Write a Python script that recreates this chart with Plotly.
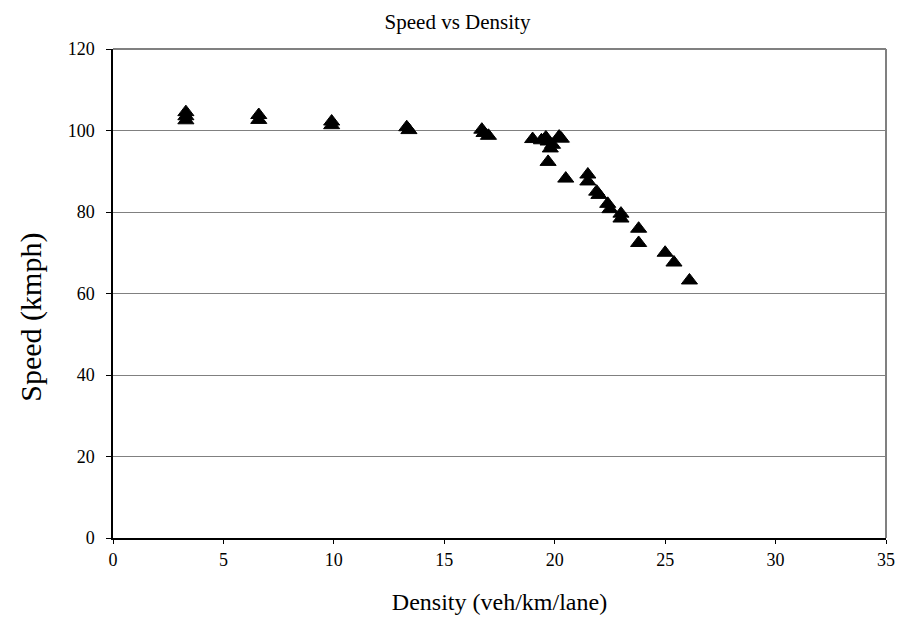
import plotly.graph_objects as go

density = [3.3, 3.3, 3.3, 6.6, 6.6, 9.9, 9.9, 13.3, 13.4, 16.7, 16.8, 17.0,
           19.0, 19.4, 19.6, 19.7, 19.8, 19.9, 19.7, 20.2, 20.3, 20.5,
           21.5, 21.5, 21.9, 22.0, 22.4, 22.5, 23.0, 23.0, 23.8, 23.8,
           25.0, 25.4, 26.1]
speed = [104.5, 103.5, 102.5, 103.8, 102.6, 102.2, 101.3, 100.8, 100.1, 100.2, 99.4, 98.7,
         97.9, 97.6, 98.3, 97.3, 95.6, 96.5, 92.3, 98.5, 98.0, 88.2,
         89.2, 87.5, 85.0, 84.2, 82.0, 80.7, 79.6, 78.4, 75.9, 72.4,
         70.0, 67.6, 63.2]

x_ticks = [0, 5, 10, 15, 20, 25, 30, 35]
y_ticks = [0, 20, 40, 60, 80, 100, 120]

font = "Liberation Serif, Times New Roman, serif"

fig = go.Figure()
fig.add_trace(go.Scatter(
    x=density, y=speed, mode="markers",
    marker=dict(symbol="triangle-up", size=14, color="black",
                line=dict(color="black", width=1)),
    showlegend=False,
))

fig.update_layout(
    width=899, height=620,
    margin=dict(l=105, r=14, t=41, b=90),
    paper_bgcolor="white", plot_bgcolor="white",
    title=dict(text="Speed vs Density", x=0.5, xanchor="center", y=0.978, yanchor="middle",
               font=dict(family=font, size=21, color="black")),
    font=dict(family=font, color="black"),
)
fig.update_xaxes(
    range=[0, 35], tickvals=x_ticks, ticktext=[str(v) for v in x_ticks],
    showgrid=False, zeroline=False,
    showline=True, linecolor="black", linewidth=1.5,
    ticks="outside", ticklen=4, tickcolor="black",
    tickfont=dict(family=font, size=18, color="black"),
    ticklabelstandoff=1,
    title=dict(text="Density (veh/km/lane)", font=dict(family=font, size=24, color="black"), standoff=24),
)
fig.update_yaxes(
    range=[0, 120], tickvals=y_ticks, ticktext=[str(v) for v in y_ticks],
    showgrid=True, gridcolor="#808080", gridwidth=1, zeroline=False,
    showline=True, linecolor="black", linewidth=1.5,
    ticks="outside", ticklen=5, tickcolor="black",
    tickfont=dict(family=font, size=18, color="black"),
    ticklabelstandoff=8,
)
fig.add_annotation(text="Speed (kmph)", xref="paper", yref="paper", x=-0.1064, y=0.452,
                   xanchor="center", yanchor="middle", textangle=-90, showarrow=False,
                   font=dict(family=font, size=30, color="black"))
fig.add_shape(type="line", xref="paper", yref="paper", x0=0, x1=1, y0=1, y1=1,
              line=dict(color="#808080", width=2))
fig.add_shape(type="line", xref="paper", yref="paper", x0=1, x1=1, y0=0, y1=1,
              line=dict(color="#808080", width=2))

fig.write_html("out.html")
